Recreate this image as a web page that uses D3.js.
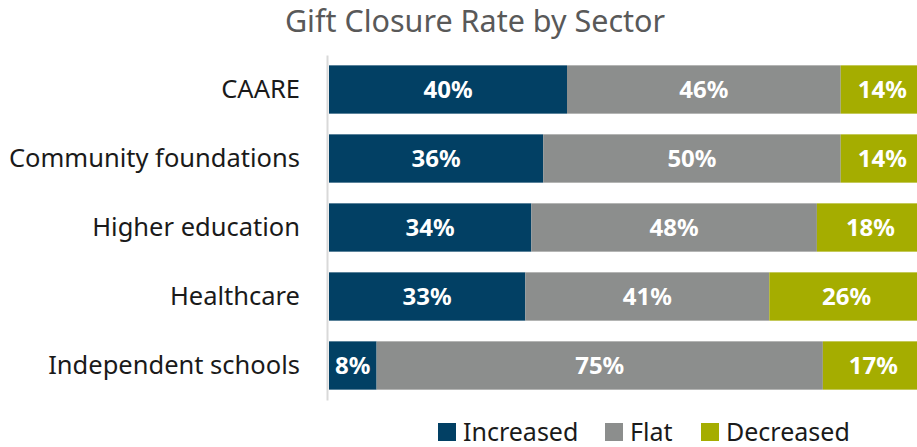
<!DOCTYPE html>
<html>
<head>
<meta charset="utf-8">
<script src="https://cdn.jsdelivr.net/npm/d3@7"></script>
<style>
  body { margin: 0; background: #fff; }
  svg { display: block; font-family: "Noto Sans", "Open Sans", sans-serif; }
</style>
</head>
<body>
<div id="chart"></div>
<script>
let svgWidth = 917;
let svgHeight = 447;

// Data
let sectors = ['CAARE', 'Community foundations', 'Higher education', 'Healthcare', 'Independent schools'];
let increased = [40, 36, 34, 33, 8];
let flat = [46, 50, 48, 41, 75];
let decreased = [14, 14, 18, 26, 17];
let seriesNames = ['Increased', 'Flat', 'Decreased'];
let colors = ['#024064', '#8c8e8d', '#a5ad00'];

let margin = { top: 55, left: 329 };
let plotWidth = 595;   // 100% runs a bit past the right edge, as in the original
let plotHeight = 345;

let svg = d3.select('#chart')
    .append('svg')
    .attr('width', svgWidth)
    .attr('height', svgHeight);

// Title
svg.append('text')
    .attr('x', 475)
    .attr('y', 32)
    .attr('text-anchor', 'middle')
    .attr('fill', '#595959')
    .style('font-size', '30.5px')
    .text('Gift Closure Rate by Sector');

let chartGroup = svg.append('g')
    .attr('transform', `translate(${margin.left}, ${margin.top})`);

let x = d3.scaleLinear().domain([0, 100]).range([0, plotWidth]);
let y = d3.scaleBand().domain(sectors).range([0, plotHeight]).paddingInner(0.3).paddingOuter(0.15);

// build rows for stacking
let rows = sectors.map((s, i) => ({
    sector: s,
    Increased: increased[i],
    Flat: flat[i],
    Decreased: decreased[i]
}));

let stacked = d3.stack().keys(seriesNames)(rows);

let layers = chartGroup.selectAll('g.layer')
    .data(stacked)
    .enter()
    .append('g')
    .attr('class', 'layer')
    .attr('fill', (d, i) => colors[i]);

layers.selectAll('rect')
    .data(d => d)
    .enter()
    .append('rect')
    .attr('x', d => x(d[0]))
    .attr('y', d => y(d.data.sector))
    .attr('width', d => x(d[1]) - x(d[0]))
    .attr('height', y.bandwidth());

layers.selectAll('text')
    .data(d => d.map(v => Object.assign({}, v, { key: d.key })))
    .enter()
    .append('text')
    .attr('x', d => x(d[0]) + (x(d[1]) - x(d[0])) / 2)
    .attr('y', d => y(d.data.sector) + y.bandwidth() / 2)
    .attr('dy', '0.36em')
    .attr('text-anchor', 'middle')
    .attr('fill', '#fff')
    .style('font-size', '24px')
    .style('font-weight', 'bold')
    .text(d => d.data[d.key] + '%');

// Left axis line and category labels
let leftAxis = d3.axisLeft(y).tickSize(0).tickPadding(27);
let yAxis = chartGroup.append('g')
    .attr('transform', 'translate(-2, 0)')
    .call(leftAxis);
yAxis.select('.domain').attr('stroke', '#d9d9d9').attr('stroke-width', 2);
yAxis.selectAll('text')
    .attr('fill', '#1a1a1a')
    .style('font-size', '25.5px')
    .style('font-family', '"Noto Sans", "Open Sans", sans-serif');

// Legend
let legendX = [438, 605, 701];
let legend = svg.append('g')
    .selectAll('g')
    .data(seriesNames)
    .enter()
    .append('g')
    .attr('transform', (d, i) => `translate(${legendX[i]}, 432)`);

legend.append('rect')
    .attr('x', 0)
    .attr('y', -9)
    .attr('width', 18)
    .attr('height', 18)
    .attr('fill', (d, i) => colors[i]);

legend.append('text')
    .attr('x', 25)
    .attr('dy', '0.36em')
    .attr('fill', '#1a1a1a')
    .style('font-size', '25px')
    .text(d => d);
</script>
</body>
</html>
